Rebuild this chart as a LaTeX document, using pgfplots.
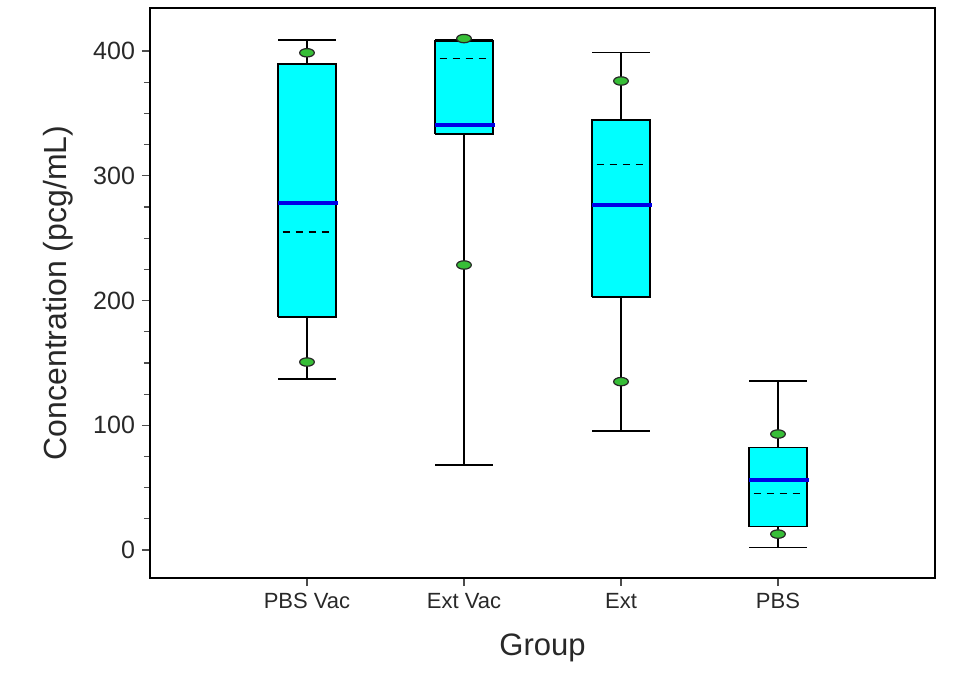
\documentclass[border=0pt]{standalone}
\usepackage{fontspec}
\setmainfont{Liberation Sans}
\usepackage{pgfplots}
\pgfplotsset{compat=1.18}
\definecolor{boxcyan}{RGB}{0,255,255}
\definecolor{medblue}{RGB}{0,0,230}
\definecolor{dotgreen}{RGB}{55,190,55}
\definecolor{txt}{RGB}{40,40,40}
\begin{document}
\begin{tikzpicture}
\useasboundingbox (-75pt,-57pt) rectangle (402pt,289pt);
\begin{axis}[
  at={(0,0)}, anchor=south west,
  scale only axis,
  width=392.5pt, height=285pt,
  xmin=0, xmax=5,
  ymin=-22.4, ymax=434.5,
  axis line style={line width=1.3pt},
  xtick={1,2,3,4},
  xticklabels={PBS Vac, Ext Vac, Ext, PBS},
  ytick={0,100,200,300,400},
  minor y tick num=3,
  tick align=outside,
  xtick pos=bottom, ytick pos=left,
  major tick length=4pt, minor tick length=3pt,
  tick style={black!70, line width=0.6pt},
  /pgf/number format/assume math mode=true,
  yticklabel style={font=\fontsize{12.5}{14}\selectfont, text=txt},
  xticklabel style={font=\fontsize{11}{13}\selectfont, text=txt},
  xlabel={Group}, ylabel={Concentration (pcg/mL)},
  every axis x label/.style={at={(axis description cs:0.5,-0.123)}, anchor=center, font=\fontsize{15.5}{18}\selectfont, text=txt},
  every axis y label/.style={at={(axis description cs:-0.117,0.5)}, rotate=90, anchor=center, font=\fontsize{16}{18}\selectfont, text=txt},
  whisk/.style={black, line width=0.75pt},
  boxst/.style={draw=black, fill=boxcyan, line width=0.75pt, line join=miter},
  medst/.style={medblue, line width=2pt},
  meanst/.style={black, line width=0.8pt, dash pattern=on 3.5pt off 3pt},
]
% ---- whiskers (vertical) ----
\addplot[whisk] coordinates {(1,137.1) (1,186.8)};
\addplot[whisk] coordinates {(1,389.6) (1,408.8)};
\addplot[whisk] coordinates {(2,68.1) (2,333.5)};
\addplot[whisk] coordinates {(3,95.4) (3,203)};
\addplot[whisk] coordinates {(3,344.7) (3,399)};
\addplot[whisk] coordinates {(4,1.9) (4,18.7)};
\addplot[whisk] coordinates {(4,82.3) (4,135.5)};
% ---- whisker caps ----
\addplot[whisk] coordinates {(0.8165,137.1) (1.1835,137.1)};
\addplot[whisk] coordinates {(0.8165,408.8) (1.1835,408.8)};
\addplot[whisk] coordinates {(1.8165,68.1) (2.1835,68.1)};
\addplot[whisk] coordinates {(1.8165,408.8) (2.1835,408.8)};
\addplot[whisk] coordinates {(2.8165,95.4) (3.1835,95.4)};
\addplot[whisk] coordinates {(2.8165,399) (3.1835,399)};
\addplot[whisk] coordinates {(3.8165,1.9) (4.1835,1.9)};
\addplot[whisk] coordinates {(3.8165,135.5) (4.1835,135.5)};
% ---- boxes (Q1 to Q3) ----
\addplot[boxst] coordinates {(0.8165,186.8) (1.1835,186.8) (1.1835,389.6) (0.8165,389.6) (0.8165,186.8)};
\addplot[boxst] coordinates {(1.8165,333.5) (2.1835,333.5) (2.1835,408) (1.8165,408) (1.8165,333.5)};
\addplot[boxst] coordinates {(2.8165,203) (3.1835,203) (3.1835,344.7) (2.8165,344.7) (2.8165,203)};
\addplot[boxst] coordinates {(3.8165,18.7) (4.1835,18.7) (4.1835,82.3) (3.8165,82.3) (3.8165,18.7)};
% ---- means (dashed) ----
\addplot[meanst] coordinates {(0.845,255) (1.17,255)};
\addplot[meanst] coordinates {(1.845,394) (2.17,394)};
\addplot[meanst] coordinates {(2.845,309) (3.17,309)};
\addplot[meanst] coordinates {(3.845,45.4) (4.17,45.4)};
% ---- medians ----
\addplot[medst] coordinates {(0.8165,278.2) (1.195,278.2)};
\addplot[medst] coordinates {(1.8165,340.7) (2.195,340.7)};
\addplot[medst] coordinates {(2.8165,276.6) (3.195,276.6)};
\addplot[medst] coordinates {(3.8165,56.1) (4.195,56.1)};
% ---- 5th / 95th percentile points ----
\addplot[only marks, mark=*, mark size=2.1pt,
  mark options={xscale=1.75, fill=dotgreen, draw=black!85, line width=0.6pt}]
  coordinates {(1,398.6) (1,150.7) (2,410) (2,228.5) (3,376) (3,135) (4,93) (4,12.8)};
\end{axis}
\end{tikzpicture}
\end{document}
